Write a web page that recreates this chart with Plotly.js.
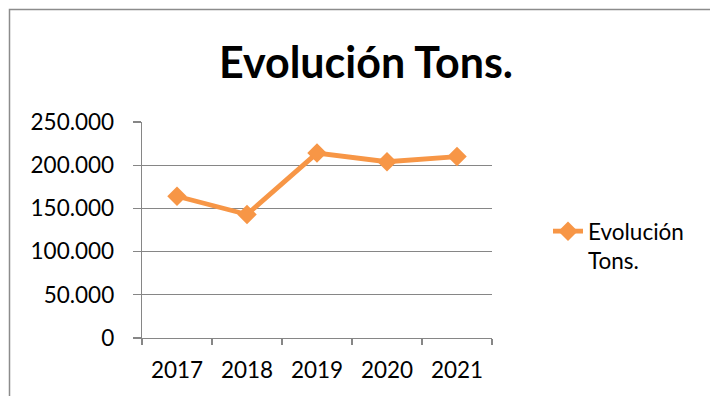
<!DOCTYPE html>
<html>
<head>
<meta charset="utf-8">
<script src="https://cdn.plot.ly/plotly-3.0.1.min.js"></script>
<style>html,body{margin:0;padding:0;background:#fff;}#chart{width:710px;height:396px;}</style>
</head>
<body>
<div id="chart"></div>
<script>
const years = ['2017', '2018', '2019', '2020', '2021'];
const tons = [164000, 143000, 214000, 204000, 210000];
const seriesName = 'Evolución<br>Tons.';
const chartTitle = 'Evolución Tons.';

const gridColor = '#868686';
const lineColor = '#F79646';
const font = 'Lato, "Open Sans", sans-serif';

const L = 142, R = 492, T = 122, B = 338;
const W = 710, H = 396;
const px = x => (x - L) / (R - L);
const py = y => (B - y) / (B - T);

const trace = {
  x: years, y: tons, name: seriesName, type: 'scatter', mode: 'lines+markers',
  line: {color: lineColor, width: 4.8},
  marker: {symbol: 'diamond', size: 15, color: lineColor}
};

const layout = {
  width: W, height: H,
  margin: {l: L, r: W - R, t: T, b: H - B},
  paper_bgcolor: '#fff', plot_bgcolor: '#fff',
  separators: ',.',
  font: {family: font, size: 22.5, color: '#000'},
  title: {text: '<b>' + chartTitle + '</b>', xref: 'container', yref: 'container',
    x: 366 / W, y: 1 - 63 / H, xanchor: 'center', yanchor: 'middle',
    font: {family: font, size: 43, color: '#000'}},
  xaxis: {type: 'category', range: [-0.5, years.length - 0.5], autorange: false,
    showgrid: false, showline: true, linecolor: gridColor, linewidth: 1.3,
    ticks: 'outside', tickson: 'boundaries', ticklen: 6, tickcolor: gridColor, tickwidth: 1.3,
    ticklabelstandoff: 12, zeroline: false, fixedrange: true},
  yaxis: {range: [0, 250000], autorange: false, dtick: 50000, tickformat: ',d', showgrid: true, gridcolor: gridColor, gridwidth: 1.3,
    showline: true, linecolor: gridColor, linewidth: 1.3, ticks: 'outside', ticklen: 8, tickcolor: gridColor,
    tickwidth: 1.3, ticklabelstandoff: 14, zeroline: false, fixedrange: true},
  legend: {x: px(548), y: py(210), xanchor: 'left', yanchor: 'top', valign: 'top',
    font: {family: font, size: 22.5, color: '#000'}, bgcolor: 'rgba(0,0,0,0)'},
  showlegend: true,
  shapes: [{type: 'rect', xref: 'paper', yref: 'paper', x0: px(9.5), x1: px(730), y0: py(420), y1: py(9.5),
    line: {color: '#8c8c8c', width: 1.5}, fillcolor: 'rgba(0,0,0,0)', layer: 'below'}]
};

Plotly.newPlot('chart', [trace], layout, {displayModeBar: false, staticPlot: true});
</script>
</body>
</html>
